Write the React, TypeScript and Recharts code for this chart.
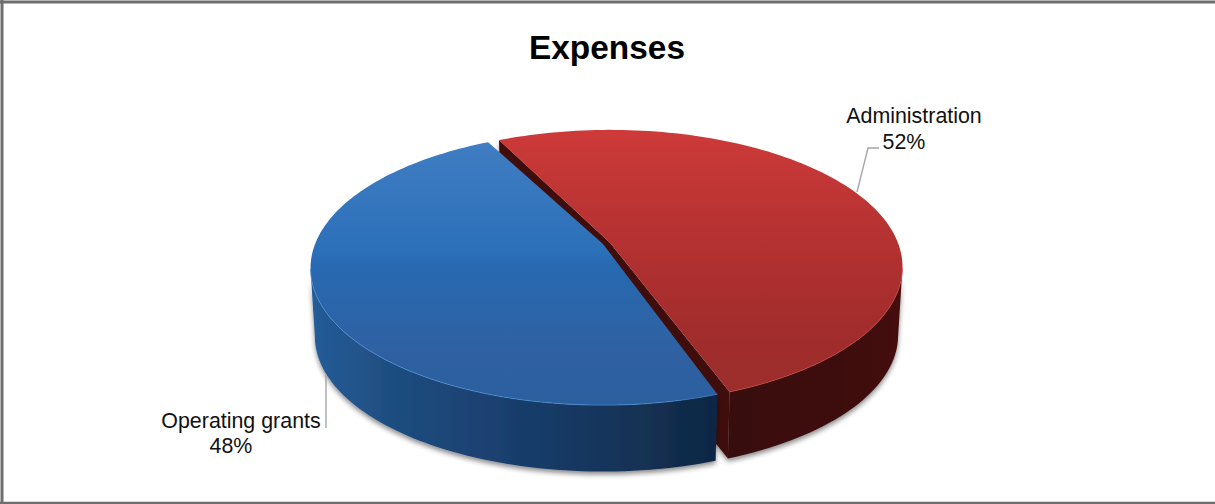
import React from "react";
import { PieChart, Pie } from "recharts";

const categories = ["Administration", "Operating grants"];
const shares = [52, 48];
const chartTitle = "Expenses";

const tableData = categories.map((name, i) => ({ name, value: shares[i] }));

const FONT = "'Liberation Sans', Arial, sans-serif";
const RX = 292.5;
const RY = 137;
const PERSPECTIVE = 0.176;
const DEPTH = 68.5;
const BOTTOM_SCALE = 0.985;
const EXPLODE = 3.8;
const rad = (d: number) => (d * Math.PI) / 180;

const styles: Record<string, any> = {
  Administration: { top: "url(#redTop)", wall: "url(#redWall)", rim: "#c94442", cut: "#3f1010" },
  "Operating grants": { top: "url(#blueTop)", wall: "url(#blueWall)", rim: "#4c8fd8", cut: "#123050" },
};

const labelLayout: Record<string, any> = {
  Administration: {
    nameX: 914, nameY: 123, pctX: 904, pctY: 149,
    line: "857,192 868,148 879,148",
  },
  "Operating grants": {
    nameX: 241, nameY: 428, pctX: 231, pctY: 453,
    line: "326,374 326,428",
  },
};

function Slice(props: any) {
  const { cx, cy, startAngle, endAngle, midAngle, name, payload } = props;
  const key = name ?? payload?.name;
  const st = styles[key];
  const mid = midAngle ?? (startAngle + endAngle) / 2;
  const ox = cx + EXPLODE * Math.cos(rad(mid));
  const oy = cy - 0.42 * EXPLODE * Math.sin(rad(mid));
  const a = PERSPECTIVE;
  const s = Math.sqrt(1 - a * a);
  const unit = (deg: number, r = 1) => {
    const u = r * Math.cos(rad(deg));
    const v = r * Math.sin(rad(deg));
    const d = 1 + a * v;
    return [(u * s) / d, (v + a) / d];
  };
  const top = (deg: number, r = 1) => {
    const [u, v] = unit(deg, r);
    return [ox + RX * u, oy - RY * v];
  };
  const low = (deg: number, r = 1) => {
    const [u, v] = unit(deg, r);
    return [ox + RX * BOTTOM_SCALE * u, oy - RY * BOTTOM_SCALE * v + DEPTH];
  };
  const n = 120;
  const angles: number[] = [];
  for (let i = 0; i <= n; i++) angles.push(startAngle + ((endAngle - startAngle) * i) / n);
  const fmt = (p: number[]) => `${p[0].toFixed(2)},${p[1].toFixed(2)}`;
  const apex = top(0, 0);
  const apexLow = low(0, 0);
  const face = [apex, ...angles.map((t) => top(t))].map(fmt).join(" ");
  const visible = angles.filter((t) => unit(t)[1] <= 0.002);
  const wall = [...visible.map((t) => top(t)), ...visible.slice().reverse().map((t) => low(t))]
    .map(fmt)
    .join(" ");
  const rim = visible.map((t) => top(t)).map(fmt).join(" ");
  const cutA = [apex, top(startAngle), low(startAngle), apexLow].map(fmt).join(" ");
  const cutB = [apex, top(endAngle), low(endAngle), apexLow].map(fmt).join(" ");
  const isRed = key === categories[0];
  return (
    <g>
      <g filter="url(#softShadow)">
        <polygon points={wall} fill={st.wall} />
        {isRed && <polygon points={cutA} fill={st.cut} />}
        {isRed && <polygon points={cutB} fill={st.cut} />}
      </g>
      <polygon points={face} fill={st.top} />
      <polyline points={rim} fill="none" stroke={st.rim} strokeWidth={1} strokeOpacity={0.7} />
    </g>
  );
}

function renderLabel(props: any) {
  const { name, value } = props;
  const l = labelLayout[name];
  const t = { fontFamily: FONT, fontSize: 21.4, fill: "#111", textAnchor: "middle" as const };
  return (
    <g key={name}>
      <polyline points={l.line} fill="none" stroke="#a6a6a6" strokeWidth={1.4} />
      <text x={l.nameX} y={l.nameY} {...t}>{name}</text>
      <text x={l.pctX} y={l.pctY} {...t}>{`${value}%`}</text>
    </g>
  );
}

export default function App() {
  return (
    <div style={{ position: "absolute", left: 0, top: 0, width: 1215, height: 504, background: "#fff" }}>
      <PieChart width={1215} height={504} margin={{ top: 0, right: 0, bottom: 0, left: 0 }}>
        <defs>
          <linearGradient id="blueTop" x1="0" y1="0" x2="0" y2="1">
            <stop offset="0" stopColor="#407dc2" />
            <stop offset="0.42" stopColor="#2b70b9" />
            <stop offset="0.47" stopColor="#2769b1" />
            <stop offset="0.8" stopColor="#2f61a2" />
            <stop offset="1" stopColor="#2b5f9e" />
          </linearGradient>
          <linearGradient id="redTop" x1="0" y1="0" x2="0" y2="1">
            <stop offset="0" stopColor="#cd3a39" />
            <stop offset="0.5" stopColor="#b03030" />
            <stop offset="0.8" stopColor="#a02c2b" />
            <stop offset="1" stopColor="#9c2e2c" />
          </linearGradient>
          <linearGradient id="blueWall" x1="0" y1="0" x2="1" y2="0">
            <stop offset="0" stopColor="#255c98" />
            <stop offset="0.2" stopColor="#1f4d80" />
            <stop offset="0.45" stopColor="#1a4070" />
            <stop offset="0.75" stopColor="#163459" />
            <stop offset="1" stopColor="#0e2744" />
          </linearGradient>
          <linearGradient id="redWall" x1="0" y1="0" x2="1" y2="0">
            <stop offset="0" stopColor="#380e0c" />
            <stop offset="0.6" stopColor="#3d0f0e" />
            <stop offset="1" stopColor="#450f10" />
          </linearGradient>
          <filter id="softShadow" x="-5%" y="-5%" width="110%" height="115%">
            <feDropShadow dx="0" dy="3" stdDeviation="2.5" floodColor="#000" floodOpacity="0.45" />
          </filter>
        </defs>
        <line x1={2} y1={0} x2={2} y2={504} stroke="#6e6e6e" strokeWidth={3} />
        <line x1={0} y1={2} x2={1215} y2={2} stroke="#6e6e6e" strokeWidth={3} />
        <line x1={0} y1={503} x2={1215} y2={503} stroke="#6e6e6e" strokeWidth={2.5} />
        <text x={607} y={59} textAnchor="middle" fontFamily={FONT} fontSize={33.4} fontWeight={700} fill="#000">
          {chartTitle}
        </text>
        <Pie
          data={tableData}
          dataKey="value"
          nameKey="name"
          cx={606.5}
          cy={267.5}
          innerRadius={0}
          outerRadius={RX}
          startAngle={-69.7}
          endAngle={290.3}
          paddingAngle={0.96}
          stroke="none"
          shape={Slice}
          label={renderLabel}
          labelLine={false}
          isAnimationActive={false}
        />
      </PieChart>
    </div>
  );
}
